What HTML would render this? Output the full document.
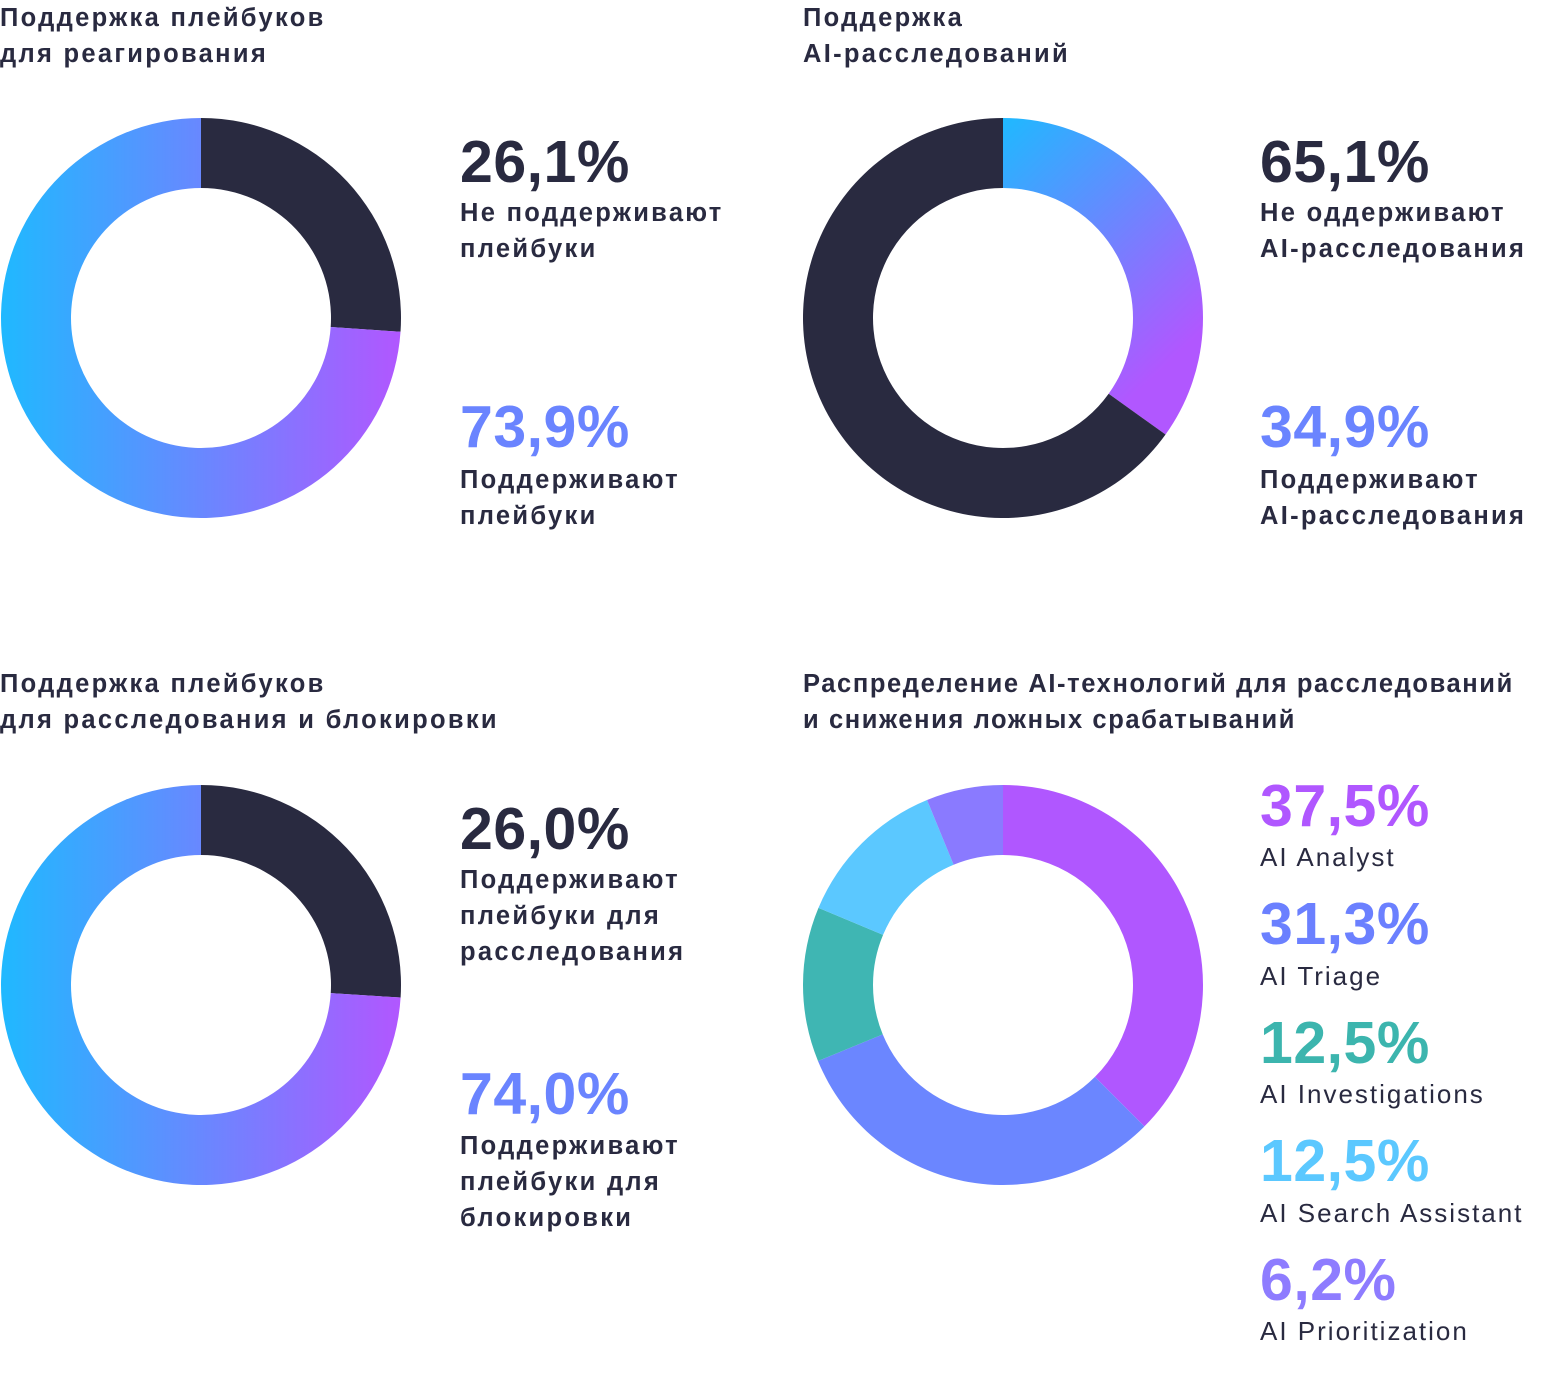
<!DOCTYPE html>
<html><head><meta charset="utf-8">
<style>
body{margin:0;width:1560px;height:1386px;background:#fff;position:relative;overflow:hidden;font-family:"Liberation Sans",sans-serif;color:#292a40}
.t{position:absolute;font-weight:bold;font-size:25.5px;line-height:36px;white-space:nowrap;letter-spacing:2.3px}
.n{font-weight:normal;font-size:26px;letter-spacing:2px}
.p{position:absolute;font-weight:900;font-size:59px;line-height:58px;letter-spacing:0.5px;white-space:nowrap}
svg{position:absolute;left:0;top:0}
</style></head><body>
<svg id="chart" width="1560" height="1386">
<defs>
<linearGradient id="g1" gradientUnits="userSpaceOnUse" x1="0" y1="0" x2="400" y2="0"><stop offset="0" stop-color="#1fb9ff"/><stop offset="1" stop-color="#b157ff"/></linearGradient>
<linearGradient id="g2" gradientUnits="userSpaceOnUse" x1="1003" y1="118" x2="1203" y2="330"><stop offset="0" stop-color="#1fb9ff"/><stop offset="1" stop-color="#b157ff"/></linearGradient>
<linearGradient id="g3" gradientUnits="userSpaceOnUse" x1="0" y1="0" x2="400" y2="0"><stop offset="0" stop-color="#1fb9ff"/><stop offset="1" stop-color="#b157ff"/></linearGradient>
</defs>
</svg>

<div class="t" style="left:0;top:0">Поддержка плейбуков<br>для реагирования</div>
<div class="t" style="left:803px;top:0">Поддержка<br>AI-расследований</div>
<div class="t" style="left:0;top:666px">Поддержка плейбуков<br>для расследования и блокировки</div>
<div class="t" style="left:803px;top:666px;letter-spacing:1.6px">Распределение AI-технологий для расследований<br>и снижения ложных срабатываний</div>

<div class="p" style="left:460px;top:133px">26,1%</div>
<div class="t" style="left:460px;top:195px">Не поддерживают<br>плейбуки</div>
<div class="p" style="left:460px;top:398px;color:#6a84ff">73,9%</div>
<div class="t" style="left:460px;top:462px">Поддерживают<br>плейбуки</div>

<div class="p" style="left:1260px;top:133px">65,1%</div>
<div class="t" style="left:1260px;top:195px">Не оддерживают<br>AI-расследования</div>
<div class="p" style="left:1260px;top:398px;color:#6a84ff">34,9%</div>
<div class="t" style="left:1260px;top:462px">Поддерживают<br>AI-расследования</div>

<div class="p" style="left:460px;top:800px">26,0%</div>
<div class="t" style="left:460px;top:862px">Поддерживают<br>плейбуки для<br>расследования</div>
<div class="p" style="left:460px;top:1065px;color:#6a84ff">74,0%</div>
<div class="t" style="left:460px;top:1128px">Поддерживают<br>плейбуки для<br>блокировки</div>

<div class="p" style="left:1260px;top:777px;color:#b057ff">37,5%</div>
<div class="t n" style="left:1260px;top:839px">AI Analyst</div>
<div class="p" style="left:1260px;top:895px;color:#6b80ff">31,3%</div>
<div class="t n" style="left:1260px;top:958px">AI Triage</div>
<div class="p" style="left:1260px;top:1014px;color:#3cb5ae">12,5%</div>
<div class="t n" style="left:1260px;top:1076px">AI Investigations</div>
<div class="p" style="left:1260px;top:1132px;color:#5bc8ff">12,5%</div>
<div class="t n" style="left:1260px;top:1195px">AI Search Assistant</div>
<div class="p" style="left:1260px;top:1251px;color:#8e7cff">6,2%</div>
<div class="t n" style="left:1260px;top:1313px">AI Prioritization</div>

<script>
const chart1Values = [26.1, 73.9];
const chart2Values = [34.9, 65.1];
const chart3Values = [26.0, 74.0];
const chart4Categories = ["AI Analyst", "AI Triage", "AI Investigations", "AI Search Assistant", "AI Prioritization"];
const chart4Values = [37.5, 31.3, 12.5, 12.5, 6.2];

const svg = document.getElementById('chart');
const NS = 'http://www.w3.org/2000/svg';
const R = 200, r = 130;
function pt(cx, cy, rad, a){ return [cx + rad*Math.sin(a), cy - rad*Math.cos(a)]; }
function arc(cx, cy, a0, a1){
  const big = (a1 - a0) > Math.PI ? 1 : 0;
  const [x0,y0]=pt(cx,cy,R,a0),[x1,y1]=pt(cx,cy,R,a1),[x2,y2]=pt(cx,cy,r,a1),[x3,y3]=pt(cx,cy,r,a0);
  return `M${x0},${y0}A${R},${R} 0 ${big} 1 ${x1},${y1}L${x2},${y2}A${r},${r} 0 ${big} 0 ${x3},${y3}Z`;
}
function donut(cx, cy, values, colors, names){
  const total = values.reduce((a,b)=>a+b,0);
  let a = 0;
  values.forEach((v,i)=>{
    const a1 = a + v/total*2*Math.PI;
    const p = document.createElementNS(NS,'path');
    p.setAttribute('d', arc(cx, cy, a, Math.min(a1, a + 2*Math.PI - 1e-4)));
    p.setAttribute('fill', colors[i]);
    
    
    svg.appendChild(p);
    a = a1;
  });
}
donut(201, 318, chart1Values, ['#292a40','url(#g1)'], ['slice-not-support-playbooks','slice-support-playbooks']);
donut(1003, 318, chart2Values, ['url(#g2)','#292a40'], ['slice-support-ai','slice-not-support-ai']);
donut(201, 985, chart3Values, ['#292a40','url(#g3)'], ['slice-investigation-playbooks','slice-blocking-playbooks']);
donut(1003, 985, chart4Values, ['#b057ff','#6b86ff','#3fb6b3','#5bc8ff','#8a7aff'],
  chart4Categories.map(c=>'slice-'+c.toLowerCase().replace(/ /g,'-')));
</script>
</body></html>
